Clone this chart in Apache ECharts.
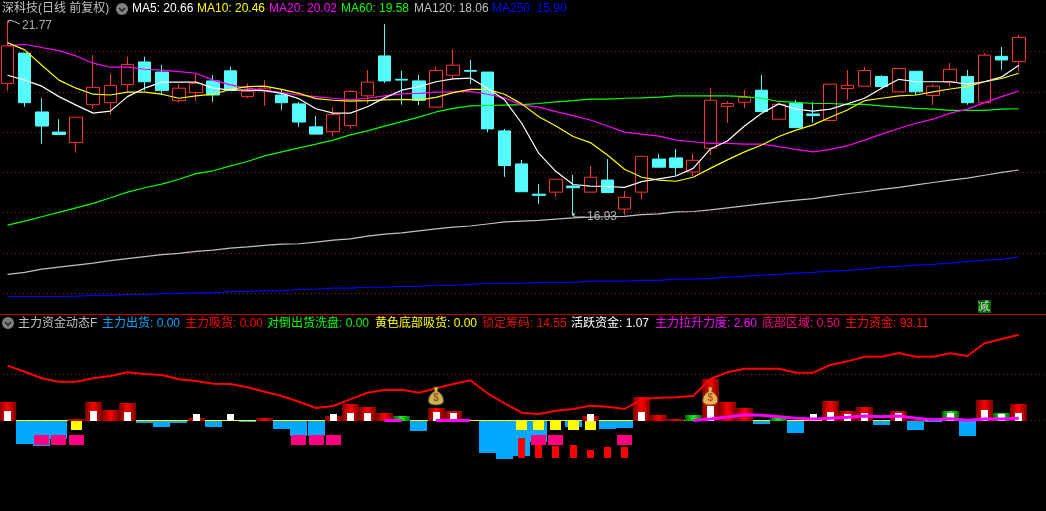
<!DOCTYPE html>
<html><head><meta charset="utf-8">
<style>html,body{margin:0;padding:0;background:#000;overflow:hidden}#c{width:1046px;height:511px}</style>
<script src="https://cdn.jsdelivr.net/npm/echarts@6/dist/echarts.min.js"></script>
</head><body><div id="c"></div>
<script>
// ---- price panel data: [open, close, low, high]
const candles = [
[20.21,21.14,20.03,21.77],[20.96,19.73,19.63,20.96],[19.50,19.15,18.71,19.84],[19.00,18.94,18.94,19.32],[18.74,19.37,18.49,19.37],
[19.68,20.11,19.58,20.91],[19.73,20.16,19.43,20.44],[20.18,20.68,20.01,20.87],[20.74,20.25,20.03,20.87],[20.49,20.03,19.92,20.67],
[19.78,20.09,19.73,20.19],[19.98,20.21,19.78,20.44],[20.27,19.92,19.75,20.42],[20.52,20.04,20.04,20.62],[19.88,20.01,19.84,20.21],
[20.03,20.09,19.65,20.29],[19.92,19.73,19.55,20.06],[19.70,19.25,19.13,19.75],[19.13,18.95,18.94,19.40],[19.01,19.44,18.89,19.62],
[19.16,20.01,19.08,20.04],[19.90,20.24,19.70,20.54],[20.89,20.27,20.22,21.68],[20.31,20.29,19.68,20.52],[20.27,19.79,19.67,20.42],
[19.62,20.53,19.62,20.62],[20.41,20.66,20.31,21.06],[20.53,20.51,20.19,20.79],[20.49,19.08,19.00,20.49],[19.03,18.17,17.89,19.08],
[18.21,17.52,17.52,18.31],[17.46,17.43,17.22,17.71],[17.51,17.83,17.40,17.83],[17.66,17.62,16.93,17.94],[17.51,17.88,17.51,18.16],
[17.81,17.50,17.50,18.33],[17.09,17.38,16.94,17.54],[17.51,18.40,17.34,18.40],[18.33,18.13,18.11,18.46],[18.36,18.12,17.91,18.58],
[18.01,18.30,17.91,18.46],[18.60,19.79,18.43,20.09],[19.64,19.71,19.23,19.77],[19.74,19.86,19.60,20.04],[20.04,19.51,19.51,20.42],
[19.32,19.69,19.32,19.73],[19.72,19.11,19.11,19.80],[19.45,19.41,19.23,19.75],[19.29,20.19,19.26,20.19],[20.08,20.16,19.80,20.54],
[20.14,20.53,20.14,20.62],[20.38,20.13,20.06,20.42],[20.00,20.58,20.00,20.58],[20.51,20.00,19.92,20.51],[19.91,20.14,19.67,20.19],
[20.24,20.56,20.13,20.71],[20.38,19.73,19.68,20.54],[19.73,20.91,19.73,20.96],[20.88,20.79,20.54,21.11],[20.75,21.35,20.52,21.41]];
const ma5 = [20.41,20.29,20.14,19.88,19.67,19.47,19.52,19.88,20.09,20.24,20.24,20.24,20.09,20.04,20.04,20.03,19.96,19.83,19.58,19.47,19.47,
19.63,19.85,20.04,20.13,20.25,20.32,20.34,20.09,19.80,19.22,18.47,18.02,17.70,17.66,17.65,17.63,17.77,17.84,17.91,18.10,
18.58,18.78,19.15,19.47,19.70,19.57,19.52,19.57,19.70,19.84,20.09,20.31,20.25,20.25,20.25,20.19,20.25,20.37,20.66];
const ma10 = [21.22,21.04,20.66,20.29,20.09,19.94,19.92,19.99,19.99,19.94,19.84,19.90,19.94,20.06,20.13,20.14,20.06,19.96,19.83,19.79,19.77,
19.78,19.80,19.81,19.80,19.86,19.98,20.06,20.06,19.94,19.70,19.38,19.15,18.89,18.74,18.43,18.08,17.88,17.81,17.78,17.88,
18.10,18.31,18.51,18.68,18.89,19.05,19.18,19.37,19.55,19.78,19.84,19.90,19.92,20.00,20.07,20.13,20.25,20.33,20.46];
const ma20 = [21.14,21.18,21.10,21.02,20.89,20.71,20.61,20.61,20.56,20.54,20.50,20.46,20.29,20.17,20.09,20.04,19.98,19.92,19.88,19.84,19.80,
19.84,19.90,19.95,19.96,19.99,20.00,20.01,19.94,19.85,19.67,19.62,19.51,19.41,19.30,19.15,19.00,18.95,18.90,18.80,18.76,
18.72,18.72,18.70,18.70,18.64,18.57,18.51,18.57,18.66,18.80,18.95,19.09,19.22,19.32,19.47,19.57,19.73,19.88,20.02];
const ma60 = [16.69,16.79,16.90,17.01,17.12,17.23,17.37,17.51,17.62,17.71,17.83,17.97,18.04,18.16,18.27,18.41,18.51,18.61,18.70,18.80,18.93,
19.03,19.15,19.26,19.37,19.50,19.59,19.65,19.66,19.67,19.68,19.71,19.75,19.78,19.82,19.82,19.84,19.85,19.87,19.90,19.90,
19.90,19.90,19.88,19.84,19.76,19.74,19.71,19.71,19.69,19.69,19.65,19.62,19.59,19.57,19.54,19.54,19.54,19.57,19.58];
const ma120 = [15.47,15.52,15.60,15.65,15.70,15.75,15.81,15.86,15.91,15.96,15.99,16.04,16.07,16.12,16.15,16.19,16.22,16.23,16.27,16.32,16.35,
16.42,16.47,16.50,16.55,16.60,16.64,16.67,16.72,16.77,16.79,16.81,16.84,16.87,16.89,16.90,16.91,16.95,16.97,17.02,17.03,
17.07,17.12,17.17,17.22,17.27,17.31,17.35,17.41,17.47,17.52,17.58,17.63,17.69,17.75,17.81,17.86,17.93,18.00,18.06];
const ma250 = [14.92,14.92,14.92,14.92,14.93,14.95,14.95,14.97,14.97,14.99,15.00,15.01,15.01,15.04,15.04,15.06,15.06,15.10,15.10,15.13,15.13,
15.15,15.15,15.17,15.17,15.20,15.20,15.22,15.25,15.25,15.25,15.27,15.27,15.27,15.30,15.30,15.30,15.32,15.32,15.35,15.35,
15.37,15.40,15.42,15.45,15.47,15.50,15.52,15.55,15.57,15.60,15.65,15.67,15.70,15.72,15.75,15.79,15.82,15.84,15.90];
const priceLevels = [15,16,17,18,19,20,21];
const extremes = [[0,21.77,'21.77'],[33,16.93,'16.93']];
const sellSignals = [[57,14.67,'减']];

// ---- indicator panel data
const mainFund = [59.6,53.0,45.9,42.2,42.2,45.9,48.4,52.4,50.5,49.5,44.8,42.9,40.0,39.7,36.1,31.3,26.6,20.4,13.6,15.8,23.0,
30.2,33.2,33.5,30.2,35.0,39.7,43.7,29.6,18.7,8.5,7.1,10.7,12.5,16.1,15.0,12.5,23.0,24.8,25.2,26.6,
45.1,52.4,56.3,56.3,56.3,52.0,52.0,60.3,64.3,69.3,69.3,73.4,69.3,69.3,73.0,70.1,83.9,88.6,93.11];
const liftPower = [null,null,null,null,null,null,null,null,null,null,null,null,null,null,null,null,null,null,null,null,null,null,
0,0,null,0,0,0,null,null,null,null,null,null,null,null,null,null,null,null,
0,1.6,3.8,6.3,5.7,4.1,2.4,1.6,2.4,3.5,4.9,4.1,4.9,2.4,0.9,2.0,0.2,1.6,1.6,2.4];
const zeroLine = new Array(60).fill(0);
const fundLevels = [0,50];
const lockedChips = [[0,20.1],[4,1.3],[5,20.1],[6,11.4],[7,19],[11,3],[15,3],[19,4.9],[20,17.9],[21,14.7],[22,8.2],[25,13.6],[26,10.3],
[34,4.9],[37,25.5],[38,6],[39,1.6],[41,45.1],[42,20.1],[43,13.6],[48,21.2],[49,10.3],[50,14.7],[52,10.3],[53,1],[57,22.3],[59,17.9]];
const washBars = [[23,4.9],[40,6],[45,2.7],[55,10.3],[58,8.2]];
const activeFund = [[0,10.3],[5,10.3],[7,9.2],[11,7.1],[13,7.1],[19,7.1],[20,8.2],[21,8.2],[25,9.2],[26,8.2],[34,7.1],[37,9.2],[41,15.8],
[47,7.1],[48,9.2],[49,7.1],[50,8.2],[52,8.2],[55,8.2],[57,11.4],[58,7.1],[59,8.2]];
const outflow = [[1,-25.5],[2,-27.7],[3,-20.1],[8,-2.7],[9,-7.1],[10,-2.7],[12,-7.1],[14,-1.6],[16,-9.2],[17,-16.8],[18,-16.8],[24,-11.4],
[28,-35.3],[29,-41.8],[30,-38.6],[31,-23.4],[33,-7.1],[35,-9.2],[36,-8.2],[44,-3.8],[46,-13.6],[51,-4.9],[53,-10.3],[54,-1.6],[56,-16.8]];
const yellowAbsorb = [[4,-10.3],[30,-10.3],[31,-10.3],[32,-10.3],[33,-10.3],[34,-10.3]];
const bottomZone = [2,3,4,17,18,19,31,32,36];
const bottomZoneRange = [-15.8,-26.6];
const absorbFloat = [[30,-19],[31,-26.6],[32,-27.7],[33,-26.6],[34,-32.1],[35,-28.8],[36,-28.8]];
const absorbFloor = -40.8;
const moneyBags = [[25,26.6],[41,26.6]];

// ---- texts
const mainTitle = '深科技(日线 前复权)';
const mainLegend = [['MA5: 20.66','#FFFFFF',132],['MA10: 20.46','#FFFF00',197],['MA20: 20.02','#FF00FF',269],['MA60: 19.58','#00FF00',341],['MA120: 18.06','#C0C0C0',414],['MA250: 15.90','#0000FF',492]];
const subTitle = '主力资金动态F';
const subLegend = [['主力出货: 0.00','#00A8FF',102],['主力吸货: 0.00','#FF0000',185],['对倒出货洗盘: 0.00','#00FF00',267],['黄色底部吸货: 0.00','#FFFF00',375],['锁定筹码: 14.55','#E01010',482],['活跃资金: 1.07','#FFFFFF',571],['主力拉升力度: 2.60','#FF00FF',655],['底部区域: 0.50','#FF0080',762],['主力资金: 93.11','#FF1010',845]];
const categories = Array.from({length:62},(_,i)=>'D'+(i+1));

const FONT = '12px "Liberation Sans","Noto Sans CJK SC",sans-serif';
const grad = (edge,mid)=>new echarts.graphic.LinearGradient(0,0,1,0,[{offset:0,color:edge},{offset:.5,color:mid},{offset:1,color:edge}]);

function rects(name,data,w,fill,z){
  return {name,type:'custom',xAxisIndex:1,yAxisIndex:1,z,silent:true,clip:false,data,
    encode:{x:0,y:[1,2]},
    renderItem:(p,api)=>{
      const a=api.coord([api.value(0),api.value(1)]),b=api.coord([api.value(0),api.value(2)]);
      const x=Math.round(a[0]-w/2),y0=Math.round(Math.min(a[1],b[1])),y1=Math.round(Math.max(a[1],b[1]));
      return {type:'rect',shape:{x,y:y0,width:w,height:y1-y0},style:{fill}};
    }};
}
const fromZero=arr=>arr.map(d=>[d[0],0,d[1]]);
const line=(name,data,color,width,axis,z)=>({name,type:'line',data,xAxisIndex:axis,yAxisIndex:axis,symbol:'none',silent:true,z,
  lineStyle:{color,width},itemStyle:{color},connectNulls:false});
const dotted=(levels,axis)=>({type:'line',data:[],xAxisIndex:axis,yAxisIndex:axis,z:1,silent:true,symbol:'none',
  markLine:{z:1,silent:true,symbol:'none',animation:false,label:{show:false},lineStyle:{color:'#a02020',width:1,type:[1,3]},data:levels.map(v=>({yAxis:v}))}});

const BAG='path://M7 1 L13 1 L12 6 C16 8 20 12 20 17 C20 21 15 22 10 22 C5 22 0 21 0 17 C0 12 4 8 8 6 Z';

const titleText=(text,x,y,fill)=>({type:'text',x,y,silent:true,style:{text,fill,font:FONT,textVerticalAlign:'middle'}});
const dropIcon=(cx,cy)=>({type:'group',silent:true,children:[
  {type:'circle',shape:{cx,cy,r:6},style:{fill:'#808080'}},
  {type:'polyline',shape:{points:[[cx-3,cy-1],[cx,cy+2],[cx+3,cy-1]]},style:{stroke:'#222',fill:'none',lineWidth:1.5}}]});

const chart=echarts.init(document.getElementById('c'),null,{renderer:'canvas'});
chart.setOption({
  animation:false,backgroundColor:'#000',tooltip:{show:false},legend:{show:false},
  grid:[{outerBoundsMode:'none',left:-1.07,width:1062.7,top:11.2,height:322.4},{outerBoundsMode:'none',left:-1.07,width:1062.7,top:328.5,height:184}],
  xAxis:[{type:'category',data:categories,gridIndex:0,show:false},{type:'category',data:categories,gridIndex:1,show:false}],
  yAxis:[{type:'value',gridIndex:0,min:14,max:22,show:false,splitLine:{show:false}},{type:'value',gridIndex:1,min:-100,max:100,show:false,splitLine:{show:false}}],
  graphic:{elements:[
    {type:'line',silent:true,shape:{x1:0,y1:314.5,x2:1046,y2:314.5},style:{stroke:'#C00000',lineWidth:1}},
    titleText(mainTitle,2,9,'#C0C0C0'),dropIcon(122,9),
    ...mainLegend.map(d=>titleText(d[0],d[2],9,d[1])),
    dropIcon(8,323),titleText(subTitle,18,323.5,'#C0C0C0'),
    ...subLegend.map(d=>titleText(d[0],d[2],323.5,d[1]))
  ]},
  series:[
    dotted(priceLevels,0),dotted(fundLevels,1),
    {name:'K',type:'candlestick',data:candles,barWidth:13,xAxisIndex:0,yAxisIndex:0,z:3,silent:true,
      itemStyle:{color:'#000',color0:'#54FCFC',borderColor:'#FF3232',borderColor0:'#54FCFC',borderWidth:1}},
    line('MA250',ma250,'#0000FF',1.2,0,4),line('MA120',ma120,'#C0C0C0',1.2,0,4),line('MA60',ma60,'#00FF00',1.2,0,4),
    line('MA20',ma20,'#FF00FF',1.2,0,4),line('MA10',ma10,'#FFFF00',1.2,0,5),line('MA5',ma5,'#FFFFFF',1.2,0,6),
    {name:'extremes',type:'custom',xAxisIndex:0,yAxisIndex:0,z:7,silent:true,clip:false,data:extremes,encode:{x:0,y:1},
      renderItem:(p,api)=>{const c=api.coord([api.value(0),api.value(1)]);const x=Math.round(c[0]),y=Math.round(c[1]);
        const up=api.value(1)>20;const ty=up?y+6:y+1;
        return {type:'group',children:[
          {type:'polyline',shape:{points:up?[[x,y+3],[x+1,y],[x+5,y+1],[x+12,y+4]]:[[x,y],[x+1,y-3],[x+1,y+1],[x+12,y+1]]},style:{stroke:'#C0C0C0',fill:'none',lineWidth:1}},
          {type:'text',x:x+14,y:ty,style:{text:extremes[p.dataIndex][2],fill:'#B0B0B0',font:'12px "Liberation Sans",sans-serif',textVerticalAlign:'middle'}}]};}},
    {name:'sell',type:'scatter',xAxisIndex:0,yAxisIndex:0,z:7,silent:true,data:sellSignals.map(d=>[d[0],d[1]]),symbol:'rect',symbolSize:13,
      itemStyle:{color:'#008000'},label:{show:true,position:'inside',formatter:p=>sellSignals[p.dataIndex][2],color:'#fff',font:'12px "Noto Sans CJK SC",sans-serif'}},

    line('zero',zeroLine,'#FFFF00',1,1,2),
    rects('主力出货',fromZero(outflow),17,'#00A8FF',3),
    rects('主力吸货',fromZero(lockedChips),17,grad('#7a0000','#FF0000'),4),
    rects('对倒出货洗盘',fromZero(washBars),17,grad('#006000','#00FF00'),4),
    rects('黄色底部吸货',fromZero(yellowAbsorb),11,'#FFFF00',5),
    rects('活跃资金',fromZero(activeFund),7,'#FFFFFF',5),
    rects('底部区域',bottomZone.map(i=>[i,bottomZoneRange[0],bottomZoneRange[1]]),15,'#FF0080',6),
    rects('吸货',absorbFloat.map(d=>[d[0],d[1],absorbFloor]),7,'#FF0000',6),
    line('主力拉升力度',liftPower,'#FF00FF',3,1,7),
    line('主力资金',mainFund,'#FF0000',2,1,8),
    {name:'bag',type:'scatter',xAxisIndex:1,yAxisIndex:1,z:9,silent:true,data:moneyBags,symbol:BAG,symbolSize:[15,18],
      itemStyle:{color:'#F5DE70',borderColor:'#6b4a00',borderWidth:1},
      label:{show:true,position:'inside',formatter:'$',color:'#9a3a00',fontWeight:'bold',fontSize:10,offset:[0,2]}}
  ]
});
</script></body></html>
